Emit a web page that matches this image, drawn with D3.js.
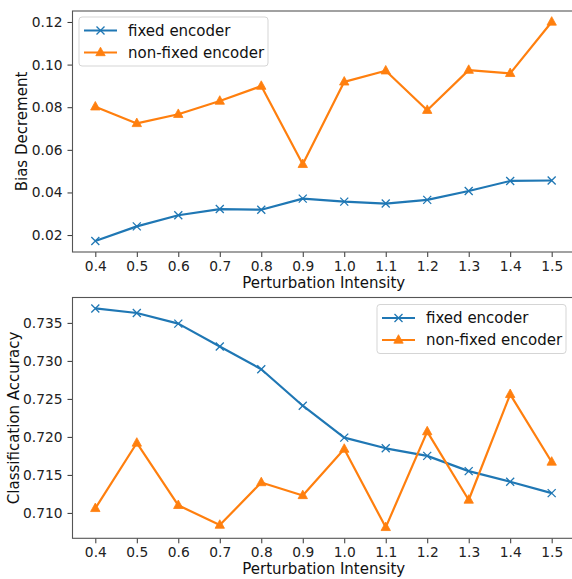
<!DOCTYPE html>
<html>
<head>
<meta charset="utf-8">
<script src="https://cdn.jsdelivr.net/npm/d3@7"></script>
<style>
  body { margin: 0; background: #fff; }
  svg { display: block; font-family: "DejaVu Sans", sans-serif; }
</style>
</head>
<body>
<div id="main"></div>
<script>
// data
const intensity = [0.4, 0.5, 0.6, 0.7, 0.8, 0.9, 1.0, 1.1, 1.2, 1.3, 1.4, 1.5];
const seriesNames = ["fixed encoder", "non-fixed encoder"];

const biasFixed = [0.0172, 0.0241, 0.0293, 0.0322, 0.0319, 0.0371, 0.0357, 0.0348, 0.0365, 0.0407, 0.0454, 0.0456];
const biasNonFixed = [0.0802, 0.0724, 0.0767, 0.0829, 0.0899, 0.0532, 0.0919, 0.0971, 0.0786, 0.0974, 0.0959, 0.1200];

const accFixed = [0.7369, 0.7363, 0.7349, 0.7319, 0.7289, 0.7241, 0.7199, 0.7185, 0.7175, 0.7155, 0.7141, 0.7126];
const accNonFixed = [0.7106, 0.7192, 0.7110, 0.7084, 0.7140, 0.7123, 0.7184, 0.7081, 0.7207, 0.7117, 0.7256, 0.7167];

const biasTicks = [0.02, 0.04, 0.06, 0.08, 0.10, 0.12];
const accTicks = [0.710, 0.715, 0.720, 0.725, 0.730, 0.735];

const ctx = {
    w: 572,
    h: 579,
    left: 72.5,
    right: 574.5,
    blue: "#1f77b4",
    orange: "#ff7f0e",
    fontTick: 13.8,
    fontLabel: 15,
};

const svg = d3.select("#main").append("svg")
    .attr("width", ctx.w).attr("height", ctx.h);

const x = d3.scaleLinear()
    .domain([0.4 - 0.055, 1.5 + 0.055])
    .range([ctx.left, ctx.right]);

function padded(arrs){
    const all = arrs.flat();
    const [lo, hi] = d3.extent(all);
    const m = (hi - lo) * 0.05;
    return [lo - m, hi + m];
}

function marker(g, type, color){
    if (type === "x") {
        g.append("path").attr("d", "M-4,-4L4,4M-4,4L4,-4")
            .attr("stroke", color).attr("stroke-width", 1.3).attr("fill", "none");
    } else {
        g.append("path").attr("d", "M0,-5.3L4.7,3.2L-4.7,3.2Z")
            .attr("fill", color).attr("stroke", color).attr("stroke-width", 0.8);
    }
}

function drawPanel(cfg){
    const y = d3.scaleLinear().domain(padded([cfg.a, cfg.b])).range([cfg.bottom, cfg.top]);
    const g = svg.append("g");

    // x axis
    const xa = g.append("g").attr("transform", `translate(0,${cfg.bottom})`)
        .call(d3.axisBottom(x).tickValues(intensity).tickFormat(d3.format(".1f")).tickSize(5).tickPadding(4));
    // y axis
    const ya = g.append("g").attr("transform", `translate(${ctx.left},0)`)
        .call(d3.axisLeft(y).tickValues(cfg.ticks).tickFormat(d3.format(cfg.fmt)).tickSize(5).tickPadding(5));
    [xa, ya].forEach(a => {
        a.select(".domain").remove();
        a.selectAll("line").attr("stroke", "#333").attr("stroke-width", 1);
        a.selectAll("text").attr("font-size", ctx.fontTick).attr("fill", "#222")
            .attr("font-family", "DejaVu Sans");
    });

    // spines
    g.append("rect")
        .attr("x", ctx.left).attr("y", cfg.top)
        .attr("width", ctx.right - ctx.left).attr("height", cfg.bottom - cfg.top)
        .attr("fill", "none").attr("stroke", "#555").attr("stroke-width", 1.1);

    const line = d3.line().x((d, i) => x(intensity[i])).y(d => y(d));
    const series = [[cfg.a, ctx.blue, "x"], [cfg.b, ctx.orange, "^"]];
    series.forEach(([vals, color, type]) => {
        g.append("path").datum(vals).attr("d", line)
            .attr("fill", "none").attr("stroke", color).attr("stroke-width", 2.2)
            .attr("stroke-linejoin", "round");
        vals.forEach((v, i) => {
            const mg = g.append("g").attr("transform", `translate(${x(intensity[i])},${y(v)})`);
            marker(mg, type, color);
        });
    });

    // axis labels
    g.append("text").attr("x", (ctx.left + 575) / 2).attr("y", cfg.bottom + 36)
        .attr("text-anchor", "middle").attr("font-size", ctx.fontLabel).attr("fill", "#111")
        .text("Perturbation Intensity");
    g.append("text")
        .attr("transform", `translate(${cfg.ylabX},${(cfg.top + cfg.bottom) / 2}) rotate(-90)`)
        .attr("text-anchor", "middle").attr("font-size", ctx.fontLabel).attr("fill", "#111")
        .text(cfg.ylabel);

    // legend
    const lg = g.append("g").attr("transform", `translate(${cfg.legX},${cfg.legY})`);
    lg.append("rect").attr("width", 189).attr("height", 49).attr("rx", 3)
        .attr("fill", "white").attr("fill-opacity", 0.85)
        .attr("stroke", "#d5d5d5").attr("stroke-width", 1);
    series.forEach(([vals, color, type], i) => {
        const ry = 13.5 + i * 22;
        lg.append("line").attr("x1", 5).attr("x2", 38).attr("y1", ry).attr("y2", ry)
            .attr("stroke", color).attr("stroke-width", 2.2);
        marker(lg.append("g").attr("transform", `translate(21.5,${ry})`), type, color);
        lg.append("text").attr("x", 49).attr("y", ry + 5.2)
            .attr("font-size", ctx.fontLabel).attr("fill", "#111").text(seriesNames[i]);
    });
}

drawPanel({
    a: biasFixed, b: biasNonFixed, top: 11, bottom: 252,
    ticks: biasTicks, fmt: ".2f", ylabel: "Bias Decrement", ylabX: 27,
    legX: 79, legY: 17,
});
drawPanel({
    a: accFixed, b: accNonFixed, top: 297.5, bottom: 538.3,
    ticks: accTicks, fmt: ".3f", ylabel: "Classification Accuracy", ylabX: 19,
    legX: 377, legY: 304.5,
});
</script>
</body>
</html>
